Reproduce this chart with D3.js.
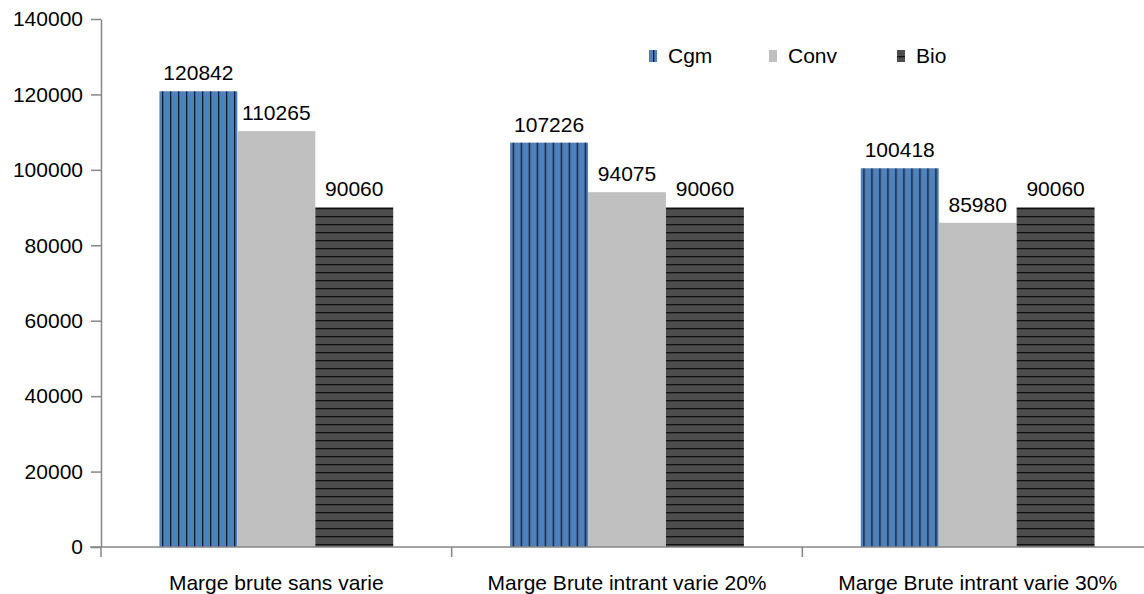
<!DOCTYPE html>
<html lang="fr">
<head>
<meta charset="UTF-8">
<script src="https://d3js.org/d3.v7.min.js"></script>
<style>
  body { margin: 0; background: #fff; overflow: hidden; }
  svg text { font-family: "Liberation Sans", Arial, sans-serif; fill: #000; }
</style>
</head>
<body>
<div id="plot"></div>
<script>
// data
const categories = ["Marge brute sans varie", "Marge Brute intrant varie 20%", "Marge Brute intrant varie 30%"];
const seriesNames = ["Cgm", "Conv", "Bio"];
const cgm = [120842, 107226, 100418];
const conv = [110265, 94075, 85980];
const bio = [90060, 90060, 90060];
const yTicks = [0, 20000, 40000, 60000, 80000, 100000, 120000, 140000];

const width = 1144, height = 594;
// the plot area runs a little past the right edge, like the original
const margin = {top: 19, right: -9, bottom: 47, left: 101};
const w = width - margin.left - margin.right;
const h = height - margin.top - margin.bottom;
const axisColor = "#868686";
const fontSize = "21px";

const svg = d3.select("#plot").append("svg")
  .attr("width", width).attr("height", height);

// patterns
const defs = svg.append("defs");
const pv = defs.append("pattern").attr("id", "pat-cgm")
  .attr("patternUnits", "userSpaceOnUse").attr("width", 8).attr("height", 8)
  .attr("x", 2);
pv.append("rect").attr("width", 8).attr("height", 8).attr("fill", "#4f81bd");
pv.append("rect").attr("x", 3).attr("width", 1.3).attr("height", 8).attr("fill", "#0f1a2a");

const ph = defs.append("pattern").attr("id", "pat-bio")
  .attr("patternUnits", "userSpaceOnUse").attr("width", 8).attr("height", 8)
  .attr("y", 1);
ph.append("rect").attr("width", 8).attr("height", 8).attr("fill", "#4d4d4d");
ph.append("rect").attr("y", 4).attr("width", 8).attr("height", 1.3).attr("fill", "#111");

const fills = {Cgm: "url(#pat-cgm)", Conv: "#c0c0c0", Bio: "url(#pat-bio)"};
const values = {Cgm: cgm, Conv: conv, Bio: bio};

const g = svg.append("g").attr("transform", `translate(${margin.left},${margin.top})`);

const x0 = d3.scaleBand().domain(categories).range([0, w]);
const x1 = d3.scaleBand().domain(seriesNames)
  .range([x0.bandwidth() / 6, x0.bandwidth() * 5 / 6]);
const y = d3.scaleLinear().domain([0, 140000]).range([h, 0]);

// y axis
const yAxis = g.append("g")
  .call(d3.axisLeft(y).tickValues(yTicks).tickSize(10).tickSizeOuter(0).tickFormat(d3.format("d")));
yAxis.select(".domain").attr("stroke", axisColor).attr("stroke-width", 1.5);
yAxis.selectAll(".tick line").attr("stroke", axisColor).attr("stroke-width", 1.5);
yAxis.selectAll(".tick text").attr("x", -18).style("font-size", fontSize)
  .style("font-family", "'Liberation Sans', Arial, sans-serif").attr("fill", "#000");

// bars
const groups = g.selectAll(".grp").data(categories).join("g")
  .attr("transform", d => `translate(${x0(d)},0)`);

groups.selectAll("rect")
  .data((c, i) => seriesNames.map(s => ({key: s, value: values[s][i]})))
  .join("rect")
  .attr("x", d => x1(d.key))
  .attr("y", d => y(d.value))
  .attr("width", x1.bandwidth())
  .attr("height", d => h - y(d.value))
  .attr("fill", d => fills[d.key]);

groups.selectAll("text.val")
  .data((c, i) => seriesNames.map(s => ({key: s, value: values[s][i]})))
  .join("text").attr("class", "val")
  .attr("x", d => x1(d.key) + x1.bandwidth() / 2)
  .attr("y", d => y(d.value) - 11)
  .attr("text-anchor", "middle")
  .style("font-size", fontSize)
  .text(d => d.value);

// x axis
const xAxisG = g.append("g").attr("transform", `translate(0,${h})`);
xAxisG.append("line").attr("x1", -11).attr("x2", w).attr("y1", 0).attr("y2", 0)
  .attr("stroke", axisColor).attr("stroke-width", 1.5);
xAxisG.selectAll(".sep").data(categories).join("line")
  .attr("x1", d => x0(d)).attr("x2", d => x0(d))
  .attr("y1", 0).attr("y2", 10)
  .attr("stroke", axisColor).attr("stroke-width", 1.5);
xAxisG.selectAll(".lbl").data(categories).join("text")
  .attr("x", d => x0(d) + x0.bandwidth() / 2)
  .attr("y", 43)
  .attr("text-anchor", "middle")
  .style("font-size", fontSize)
  .text(d => d);

// legend
const legendX = [649, 769, 897];
const swatch = {Cgm: "#4f81bd", Conv: "#c0c0c0", Bio: "#4d4d4d"};
const legend = svg.append("g");
seriesNames.forEach((s, i) => {
  const lg = legend.append("g").attr("transform", `translate(${legendX[i]},50)`);
  lg.append("rect").attr("width", 8).attr("height", 12).attr("fill", swatch[s]);
  if (s === "Cgm") lg.append("rect").attr("x", 4).attr("width", 1.3).attr("height", 12).attr("fill", "#0f1a2a");
  if (s === "Bio") lg.append("rect").attr("y", 6).attr("width", 8).attr("height", 1.3).attr("fill", "#111");
  lg.append("text").attr("x", 19).attr("y", 13).style("font-size", fontSize).text(s);
});
</script>
</body>
</html>
